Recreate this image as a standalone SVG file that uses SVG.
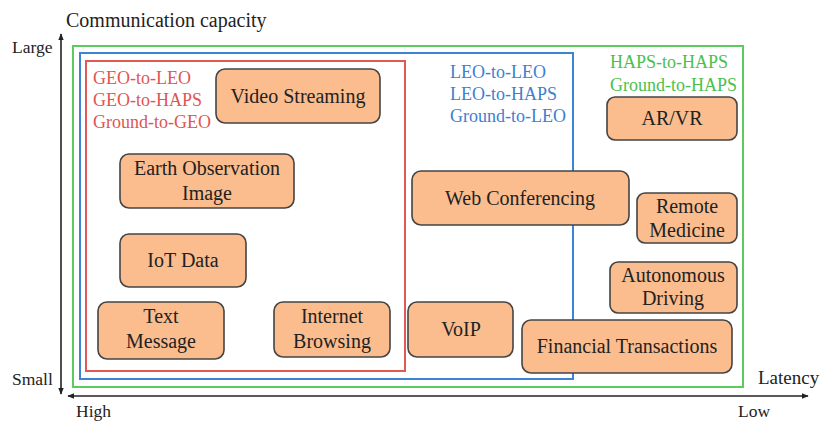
<svg xmlns="http://www.w3.org/2000/svg" width="824" height="423" viewBox="0 0 824 423">
<defs>
<marker id="ah" viewBox="0 0 10 10" refX="9" refY="5" markerWidth="7" markerHeight="7" orient="auto-start-reverse" markerUnits="userSpaceOnUse"><path d="M0,1 L10,5 L0,9 z" fill="#222"/></marker>
</defs>
<rect width="824" height="423" fill="#fff"/>
<g id="axes" stroke="#222" stroke-width="1.6" fill="none">
<line x1="61" y1="34" x2="61" y2="394" marker-start="url(#ah)" marker-end="url(#ah)"/>
<line x1="68" y1="396" x2="808" y2="396" marker-start="url(#ah)" marker-end="url(#ah)"/>
</g>
<g id="regions" fill="none" stroke-width="2">
<rect x="73" y="46" width="670" height="341" stroke="#5ccb5c"/>
<rect x="80" y="53" width="493" height="326" stroke="#3d85d3"/>
<rect x="86" y="61" width="319" height="310" stroke="#df5a55"/>
</g>
<g id="axis-labels" fill="#222" font-size="17.5">
<text x="66" y="27" font-family="Liberation Serif" font-size="20">Communication capacity</text>
<text x="12" y="53" font-family="Liberation Serif">Large</text>
<text x="12" y="385" font-family="Liberation Serif">Small</text>
<text x="76" y="417" font-family="Liberation Serif">High</text>
<text x="738" y="417" font-family="Liberation Serif">Low</text>
<text x="758" y="384" font-family="Liberation Serif" font-size="19">Latency</text>
</g>
<g id="labels" font-size="18">
<g fill="#e05552">
<text x="93" y="84" font-family="Liberation Serif">GEO-to-LEO</text>
<text x="93" y="106" font-family="Liberation Serif">GEO-to-HAPS</text>
<text x="93" y="128" font-family="Liberation Serif">Ground-to-GEO</text>
</g>
<g fill="#3d7fd0">
<text x="450" y="78" font-family="Liberation Serif">LEO-to-LEO</text>
<text x="450" y="100" font-family="Liberation Serif">LEO-to-HAPS</text>
<text x="450" y="122" font-family="Liberation Serif">Ground-to-LEO</text>
</g>
<g fill="#4cc04c">
<text x="610" y="68" font-family="Liberation Serif">HAPS-to-HAPS</text>
<text x="610" y="91" font-family="Liberation Serif">Ground-to-HAPS</text>
</g>
</g>
<g id="nodes" fill="#fbbd8e" stroke="#444" stroke-width="1.6">
<g id="n-video"><rect x="216" y="69" width="164" height="54" rx="9"/></g>
<g id="n-earth"><rect x="120" y="154" width="174" height="54" rx="9"/></g>
<g id="n-iot"><rect x="120" y="234" width="126" height="53" rx="9"/></g>
<g id="n-text"><rect x="98" y="302" width="126" height="57" rx="9"/></g>
<g id="n-internet"><rect x="274" y="302" width="116" height="55" rx="9"/></g>
<g id="n-web"><rect x="412" y="171" width="217" height="54" rx="9"/></g>
<g id="n-voip"><rect x="408" y="302" width="105" height="55" rx="9"/></g>
<g id="n-fin"><rect x="522" y="320" width="210" height="53" rx="9"/></g>
<g id="n-arvr"><rect x="607" y="97" width="130" height="43" rx="8"/></g>
<g id="n-remote"><rect x="637" y="193" width="100" height="50" rx="8"/></g>
<g id="n-auto"><rect x="610" y="262" width="127" height="51" rx="8"/></g>
</g>
<g id="node-labels" fill="#222" font-size="20" text-anchor="middle">
<text x="298" y="103" font-family="Liberation Serif">Video Streaming</text>
<text x="207" y="175" font-family="Liberation Serif">Earth Observation</text>
<text x="207" y="200" font-family="Liberation Serif">Image</text>
<text x="183" y="267" font-family="Liberation Serif">IoT Data</text>
<text x="161" y="323" font-family="Liberation Serif">Text</text>
<text x="161" y="348" font-family="Liberation Serif">Message</text>
<text x="332" y="323" font-family="Liberation Serif">Internet</text>
<text x="332" y="348" font-family="Liberation Serif">Browsing</text>
<text x="520" y="205" font-family="Liberation Serif">Web Conferencing</text>
<text x="461" y="336" font-family="Liberation Serif">VoIP</text>
<text x="627" y="353" font-family="Liberation Serif">Financial Transactions</text>
<text x="672" y="125" font-family="Liberation Serif">AR/VR</text>
<text x="687" y="213" font-family="Liberation Serif">Remote</text>
<text x="687" y="237" font-family="Liberation Serif">Medicine</text>
<text x="673" y="282" font-family="Liberation Serif">Autonomous</text>
<text x="673" y="305" font-family="Liberation Serif">Driving</text>
</g>
</svg>
